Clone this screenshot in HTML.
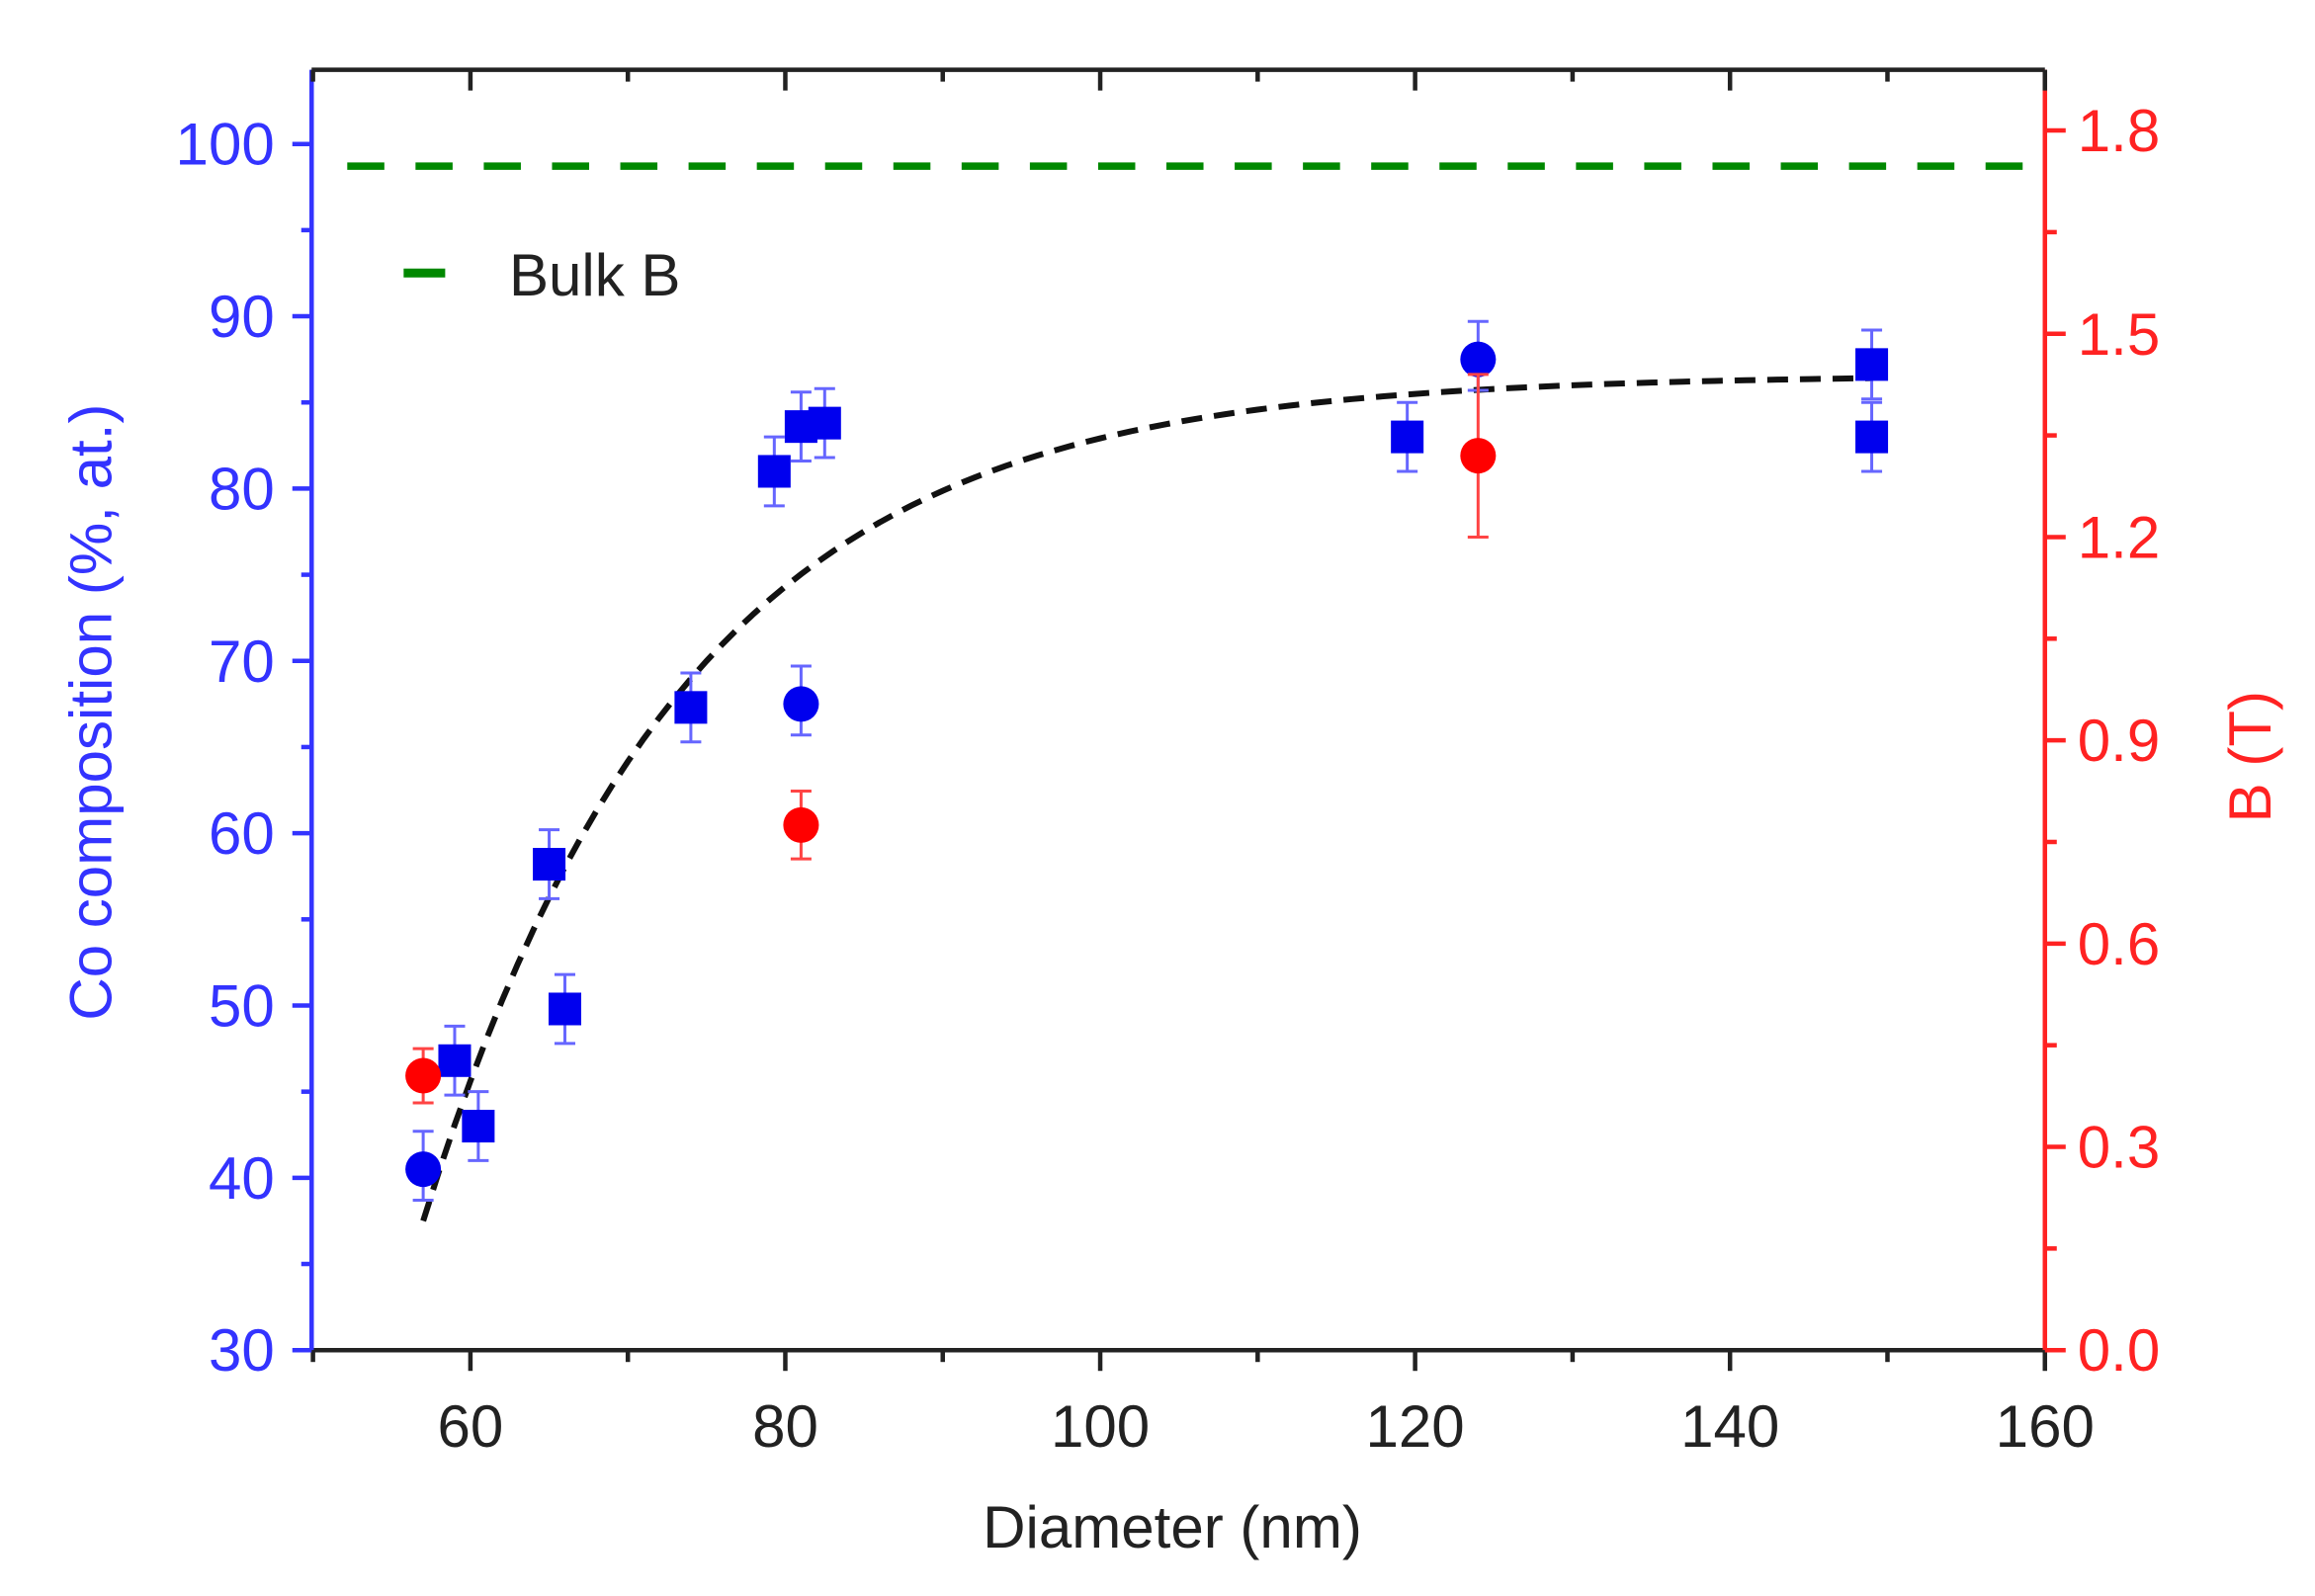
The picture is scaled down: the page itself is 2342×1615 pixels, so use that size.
<!DOCTYPE html>
<html><head><meta charset="utf-8"><style>
html,body{margin:0;padding:0;background:#fff;}
svg{display:block;}
text{font-family:"Liberation Sans",Arial,sans-serif;}
</style></head><body>
<svg id="s" width="2342" height="1615" viewBox="0 0 1560 1075.7" xmlns="http://www.w3.org/2000/svg"></svg>
<script>
const s=document.getElementById('s');
let h='';
const X=v=>317+(v-60)*10.61, Y=v=>910-(v-30)*11.614, YR=v=>910-v*456.7;
const L=(x1,y1,x2,y2,c,w,extra)=>h+=`<line x1="${x1}" y1="${y1}" x2="${x2}" y2="${y2}" stroke="${c}" stroke-width="${w}" ${extra||''}/>`;
const T=(x,y,t,c,sz,anchor,extra)=>h+=`<text x="${x}" y="${y}" fill="${c}" font-size="${sz}" text-anchor="${anchor||'middle'}" ${extra||''}>${t}</text>`;
L(210,47,1378,47,'#222',3);
L(210,910,1378,910,'#222',3);
L(210,47,210,910,'#3333ff',3);
L(1378,47,1378,910,'#ff2222',3);
for(let v=50;v<=160;v+=10){const x=X(v);const maj=v%20==0;
 L(x,910,x,maj?924:918,'#222',3); L(x,47,x,maj?61:55,'#222',3);
 if(maj) T(x,975,v,'#222',40);}
for(let v=30;v<=100;v+=5){const y=Y(v);const maj=v%10==0;L(maj?197:203,y,210,y,'#3333ff',3);
 if(maj) T(185,y+14,v,'#3333ff',40,'end');}
for(let k=0;k<=12;k++){const v=k*0.15;const y=YR(v);const maj=k%2==0;L(1378,y,maj?1392:1386,y,'#ff2222',3);
 if(maj) T(1400,y+14,v.toFixed(1),'#ff2222',40,'start');}
T(790,1043,'Diameter (nm)','#222',40);
T(0,0,'Co composition (%, at.)','#3333ff',40,'middle','transform="translate(75,480) rotate(-90)"');
T(0,0,'B (T)','#ff2222',40,'middle','transform="translate(1530,510) rotate(-90)"');
L(234,112,1378,112,'#008800',5,'stroke-dasharray="25 21"');
L(272,184,300,184,'#008800',6);
T(343,199,'Bulk B','#222',40,'start');
const pts=[];for(let x=57;x<=149.01;x+=1){pts.push([x,86.6-49.1*Math.exp(-(x-57)/16.6)]);}
h+=`<polyline fill="none" stroke="#111" stroke-width="4" stroke-dasharray="14 8" points="${pts.map(p=>X(p[0])+','+Y(p[1])).join(' ')}"/>`;
function eb(x,y1,y2,c){L(x,y1,x,y2,c,2);L(x-7,y1,x+7,y1,c,2);L(x-7,y2,x+7,y2,c,2);}
const sq=[[59,46.8],[60.5,43],[65,58.2],[66,49.8],[74,67.3],[79.3,81],[81,83.6],[82.5,83.8],[119.5,83],[149,83],[149,87.2]];
sq.forEach(p=>{const x=X(p[0]),y=Y(p[1]);eb(x,Y(p[1]+2),Y(p[1]-2),'#6666ff');h+=`<rect x="${x-11}" y="${y-11}" width="22" height="22" fill="#0000ee"/>`;});
const bc=[[57,40.5],[81,67.5],[124,87.5]];
bc.forEach(p=>{const x=X(p[0]),y=Y(p[1]);eb(x,Y(p[1]+2.2),Y(p[1]-1.8),'#6666ff');h+=`<circle cx="${x}" cy="${y}" r="12" fill="#0000ee"/>`;});
const rc=[[57,0.405,0.04],[81,0.775,0.05],[124,1.32,0.12]];
rc.forEach(p=>{const x=X(p[0]),y=YR(p[1]);eb(x,YR(p[1]+p[2]),YR(p[1]-p[2]),'#ff4444');h+=`<circle cx="${x}" cy="${y}" r="12" fill="#ff0000"/>`;});
s.innerHTML=h;
</script>
</body></html>
